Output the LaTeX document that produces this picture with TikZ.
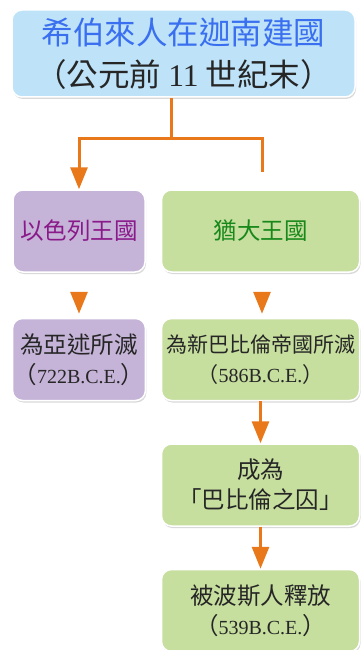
\documentclass[tikz,border=0pt]{standalone}
\usepackage{fontspec}
\setmainfont{Liberation Serif}
\newfontfamily\cjk{Noto Sans CJK TC}
\usetikzlibrary{arrows.meta, positioning, shadows}
\definecolor{topBlue}{HTML}{BEE3F8}
\definecolor{titleBlue}{HTML}{3A6FF0}
\definecolor{isrPurple}{HTML}{C5B4D8}
\definecolor{isrText}{HTML}{8A1A8A}
\definecolor{judGreen}{HTML}{C6DE9E}
\definecolor{judText}{HTML}{18881A}
\definecolor{lineOrange}{HTML}{E8781A}
\newcommand{\bigtxt}{\cjk\fontsize{31.5pt}{42pt}\selectfont}
\newcommand{\midtxt}{\cjk\fontsize{23.5pt}{30pt}\selectfont}
% year in full-width brackets
\newcommand{\yr}[1]{（{\rmfamily\fontsize{20pt}{30pt}\selectfont #1}）}
\tikzset{
  boxBase/.style={rectangle, rounded corners=10pt, draw=white, line width=1.5pt,
                  align=center, inner sep=1pt, text=black!85,
                  drop shadow={shadow xshift=1pt, shadow yshift=-2pt, opacity=0.3, fill=black!50}},
  boxTop/.style={boxBase, fill=topBlue, minimum width=343pt, minimum height=87pt, font=\bigtxt},
  boxPurple/.style={boxBase, fill=isrPurple, minimum width=132pt, minimum height=82pt, font=\midtxt},
  boxGreen/.style={boxBase, fill=judGreen, minimum width=198pt, minimum height=82pt, font=\midtxt},
  lineO/.style={lineOrange, line width=3pt},
  arrowO/.style={lineO, -{Triangle[length=22pt, width=17pt]}},
  tipO/.style={arrowO, shorten <=19pt, shorten >=4pt},
}
\begin{document}
\begin{tikzpicture}[x=1pt, y=-1pt, node distance=45pt and 15pt]
  \useasboundingbox (0,0) rectangle (363,650);
  % top
  \node[boxTop] (top) at (183.5,53.5)
        {\textcolor{titleBlue}{希伯來人在迦南建國}\\（公元前 {\rmfamily 11} 世紀末）};
  % kingdoms
  \node[boxPurple] (isr) at (79,231) {\textcolor{isrText}{以色列王國}};
  \node[boxGreen, right=of isr] (jud) {\textcolor{judText}{猶大王國}};
  \node[boxPurple, below=of isr] (isrEnd) {為亞述所滅\\\yr{722B.C.E.}};
  \node[boxGreen, below=of jud, font=\cjk\fontsize{21pt}{30pt}\selectfont] (judEnd)
        {為新巴比倫帝國所滅\\\yr{586B.C.E.}};
  \node[boxGreen, below=42pt of judEnd] (exile) {成為\\「巴比倫之囚」};
  \node[boxGreen, below=42pt of exile] (free) {被波斯人釋放\\\yr{539B.C.E.}};
  % connectors
  \coordinate (fork) at (171,138);
  \coordinate (judStub) at (262,172);
  \draw[arrowO] (top.south -| fork) -- (fork) -| (isr.north);
  \draw[lineO] (fork) -| (judStub);
  \draw[tipO] (isr.south) -- (isrEnd.north);
  \draw[tipO] (jud.south -| judStub) -- (judEnd.north -| judStub);
  \draw[arrowO] (judEnd.south) -- (exile.north);
  \draw[arrowO] (exile.south) -- (free.north);
\end{tikzpicture}
\end{document}
